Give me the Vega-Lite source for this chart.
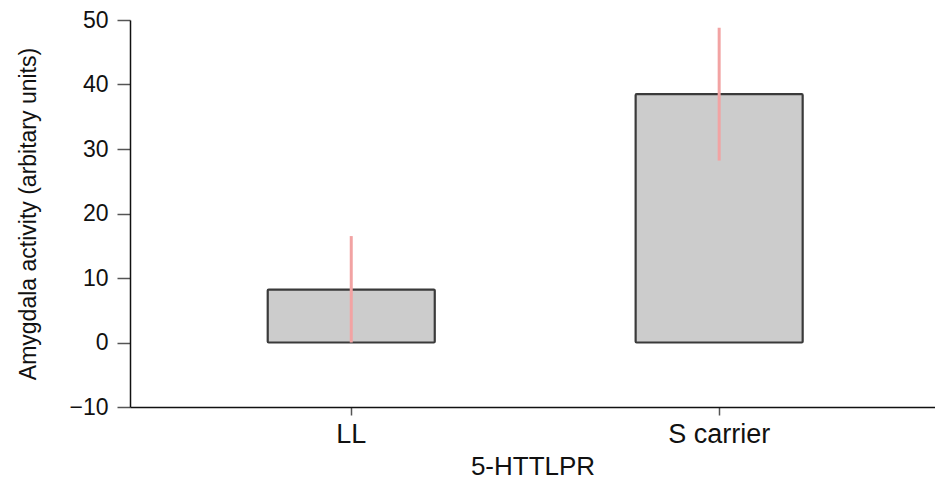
{
  "$schema": "https://vega.github.io/schema/vega-lite/v6.json",
  "autosize": "none",
  "width": 805,
  "height": 387,
  "padding": {"left": 130, "top": 20, "right": 0, "bottom": 74},
  "background": "white",
  "config": {
    "view": {"stroke": null},
    "font": "Liberation Sans"
  },
  "data": {
    "values": [
      {"genotype": "LL", "mean": 8.2, "lo": 0.0, "hi": 16.5},
      {"genotype": "S carrier", "mean": 38.5, "lo": 28.2, "hi": 48.8}
    ]
  },
  "encoding": {
    "x": {
      "field": "genotype",
      "type": "nominal",
      "sort": ["LL", "S carrier"],
      "scale": {"paddingInner": 0.546, "paddingOuter": 0.367, "align": 0.51},
      "axis": {
        "title": "5-HTTLPR",
        "labelAngle": 0,
        "labelFont": "Liberation Sans",
        "labelFontSize": 27,
        "labelColor": "#111111",
        "labelBaseline": "alphabetic",
        "labelPadding": 27,
        "tickSize": 8,
        "tickColor": "#555555",
        "tickWidth": 1.5,
        "domainColor": "#111111",
        "domainWidth": 1.5,
        "titleFont": "Liberation Sans",
        "titleFontSize": 26,
        "titleFontWeight": "normal",
        "titleColor": "#111111",
        "titleBaseline": "alphabetic",
        "titleY": 67,
        "grid": false
      }
    }
  },
  "layer": [
    {
      "mark": {"type": "bar", "fill": "#cccccc", "stroke": "#3a3a3a", "strokeWidth": 2.2, "cornerRadius": 1},
      "encoding": {
        "y": {
          "field": "mean",
          "type": "quantitative",
          "scale": {"domain": [-10, 50], "nice": false, "zero": false},
          "axis": {
            "title": "Amygdala activity (arbitary units)",
            "values": [-10, 0, 10, 20, 30, 40, 50],
            "labelFont": "Liberation Sans",
            "labelFontSize": 23,
            "labelColor": "#111111",
            "labelPadding": 9,
            "tickSize": 13,
            "tickColor": "#555555",
            "tickWidth": 1.5,
            "domainColor": "#111111",
            "domainWidth": 1.5,
            "grid": false,
            "titleFont": "Liberation Sans",
            "titleFontSize": 23,
            "titleFontWeight": "normal",
            "titleColor": "#111111",
            "titleBaseline": "middle",
            "titleX": -102,
            "titleAngle": -90
          }
        },
        "y2": {"datum": 0}
      }
    },
    {
      "mark": {"type": "rule", "color": "#f2a3a3", "strokeWidth": 3},
      "encoding": {
        "y": {"field": "lo", "type": "quantitative"},
        "y2": {"field": "hi"}
      }
    }
  ]
}
